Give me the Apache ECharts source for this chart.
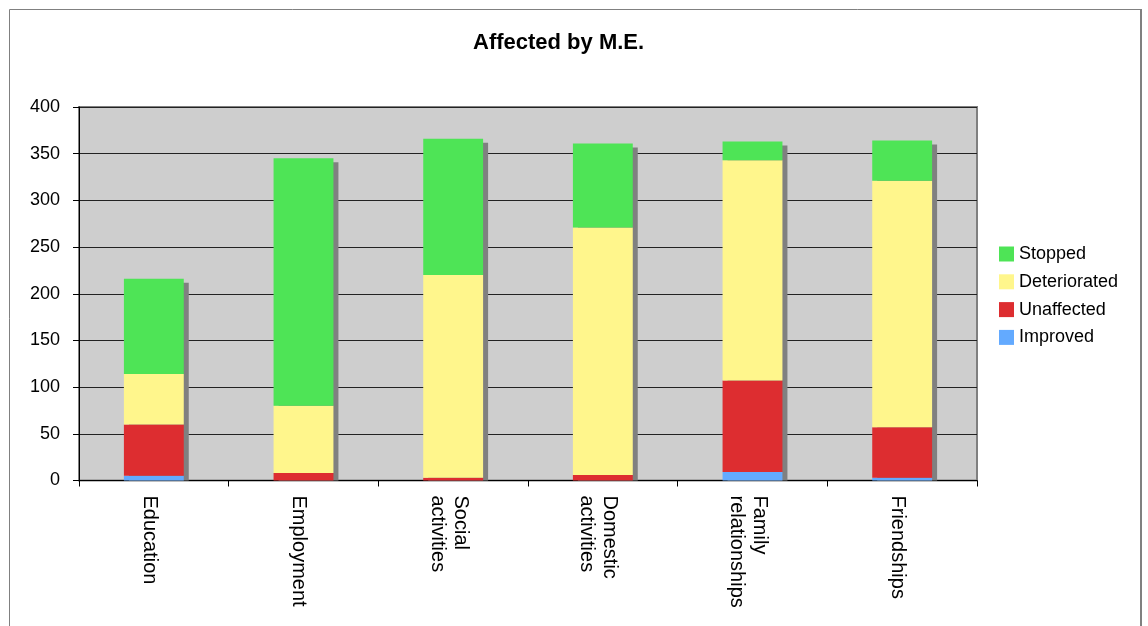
<!DOCTYPE html>
<html>
<head>
<meta charset="utf-8">
<title>Affected by M.E.</title>
<script src="https://cdn.jsdelivr.net/npm/echarts@6/dist/echarts.min.js"></script>
<style>
  html, body { margin: 0; padding: 0; background: #ffffff; }
  #chart { width: 1148px; height: 626px; }
</style>
</head>
<body>
<div id="chart"></div>
<script>
// Areas of life and how each was affected (number of respondents)
const categories = ['Education', 'Employment', 'Social\nactivities', 'Domestic\nactivities', 'Family\nrelationships', 'Friendships'];
const improved     = [5, 0, 0, 0, 9, 3];
const unaffected   = [55, 8, 3, 6, 98, 54];
const deteriorated = [54, 72, 217, 265, 236, 264];
const stopped      = [102, 265, 146, 90, 20, 43];
const yTicks = { min: 0, max: 400, interval: 50 };

const FONT = '"Liberation Sans", Arial, sans-serif';
const BAR_FRACTION = 0.4;

// Stack totals, used for the drop shadow behind each column
const totals = categories.map((_, i) => improved[i] + unaffected[i] + deteriorated[i] + stopped[i]);

const chart = echarts.init(document.getElementById('chart'), null, { renderer: 'canvas' });

function barSeries(name, data, color) {
  return {
    name: name,
    type: 'bar',
    stack: 'total',
    barWidth: (BAR_FRACTION * 100) + '%',
    data: data,
    z: 3,
    itemStyle: { color: color },
    emphasis: { disabled: true }
  };
}

// Category labels: each line as a rich fragment, with a small spacer line first
// so the rotated block sits slightly left of its tick.
function categoryLabel(value) {
  return '{gap| }\n' + value.split('\n').map(s => '{t|' + s + '}').join('\n');
}

const option = {
  animation: false,
  backgroundColor: '#ffffff',
  textStyle: { fontFamily: FONT },
  title: {
    text: 'Affected by M.E.',
    left: 468,
    top: 27,
    textStyle: { fontFamily: FONT, fontSize: 22, fontWeight: 'bold', color: '#000000' }
  },
  graphic: [
    {
      type: 'rect',
      silent: true,
      shape: { x: 9.5, y: 9.5, width: 1131, height: 700 },
      style: { fill: null, stroke: '#808080', lineWidth: 1 }
    },
    {
      type: 'line',
      silent: true,
      shape: { x1: 1141, y1: 9, x2: 1141, y2: 626 },
      style: { stroke: '#808080', lineWidth: 2 }
    }
  ],
  legend: {
    data: ['Stopped', 'Deteriorated', 'Unaffected', 'Improved'],
    orient: 'vertical',
    left: 994,
    top: 240,
    itemWidth: 15,
    itemHeight: 15,
    itemGap: 9.8,
    icon: 'rect',
    textStyle: { fontFamily: FONT, fontSize: 18, lineHeight: 18, color: '#000000', padding: [0, 0, 0, 0] },
    selectedMode: false
  },
  grid: {
    left: 79,
    right: 171,
    top: 107,
    bottom: 145.5,
    show: true,
    backgroundColor: '#cecece',
    borderColor: '#808080',
    borderWidth: 2
  },
  xAxis: {
    type: 'category',
    data: categories,
    boundaryGap: true,
    axisLine: { show: true, onZero: false, lineStyle: { color: '#000000', width: 1 } },
    axisTick: { show: true, length: 6, lineStyle: { color: '#000000' } },
    axisLabel: {
      interval: 0,
      rotate: -90,
      margin: 15,
      color: '#000000',
      formatter: categoryLabel,
      rich: {
        gap: { fontSize: 1, lineHeight: 9 },
        t: { fontFamily: FONT, fontSize: 20, lineHeight: 23, color: '#000000' }
      }
    },
    splitLine: { show: false }
  },
  yAxis: {
    type: 'value',
    min: yTicks.min,
    max: yTicks.max,
    interval: yTicks.interval,
    axisLine: { show: true, lineStyle: { color: '#000000', width: 1 } },
    axisTick: { show: true, length: 6, lineStyle: { color: '#000000' } },
    axisLabel: { margin: 19, fontFamily: FONT, fontSize: 18, color: '#000000' },
    splitLine: { show: true, lineStyle: { color: '#222222', width: 1 } }
  },
  series: [
    {
      name: 'Column shadow',
      type: 'custom',
      silent: true,
      z: 2,
      data: totals.map((t, i) => [i, t]),
      encode: { x: 0, y: 1 },
      renderItem: function (params, api) {
        const top = api.coord([api.value(0), api.value(1)]);
        const base = api.coord([api.value(0), 0]);
        const w = api.size([1, 0])[0] * BAR_FRACTION;
        return {
          type: 'rect',
          shape: { x: top[0] - w / 2 + 5, y: top[1] + 4, width: w, height: base[1] - top[1] - 4 },
          style: { fill: '#808080' }
        };
      }
    },
    barSeries('Improved', improved, '#63aaff'),
    barSeries('Unaffected', unaffected, '#dd2d30'),
    barSeries('Deteriorated', deteriorated, '#fff68c'),
    barSeries('Stopped', stopped, '#4ee456')
  ]
};

chart.setOption(option);
</script>
</body>
</html>
